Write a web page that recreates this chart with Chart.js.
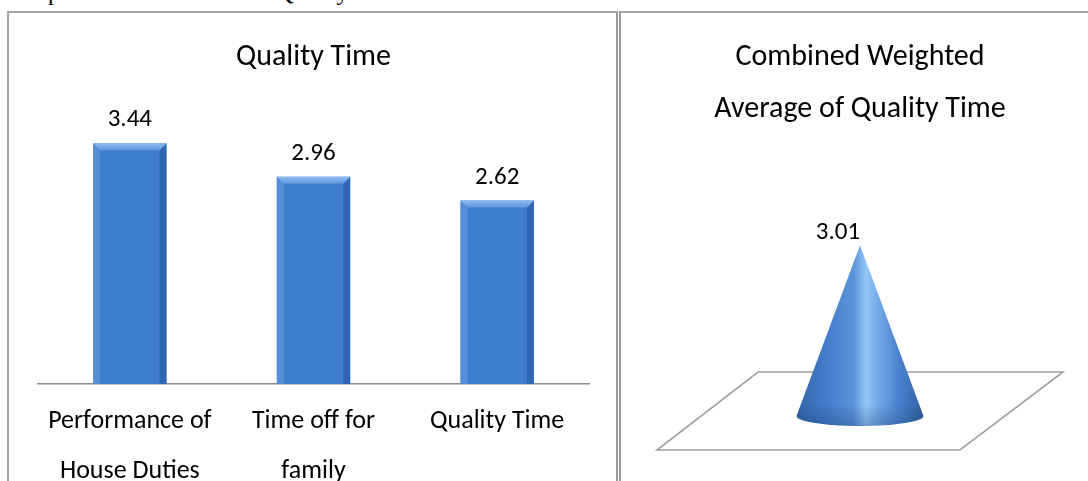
<!DOCTYPE html>
<html><head><meta charset="utf-8">
<script src="https://cdn.jsdelivr.net/npm/chart.js@4"></script>
<style>
html,body{margin:0;padding:0;background:#fff;overflow:hidden;width:1088px;height:481px;}
#cap{position:absolute;left:12px;top:-20px;font:24px "Liberation Serif","Times New Roman",serif;line-height:24px;white-space:nowrap;color:#000;}
.panel{position:absolute;top:11px;height:500px;border-top:2px solid #a6a6a6;}
#p1{left:7px;width:607px;border-left:2px solid #a6a6a6;border-right:2px solid #999;}
#p2{left:619px;width:480px;border-left:2px solid #999;}
.wrap{position:absolute;height:500px;}
</style></head>
<body>
<div id="cap">Graph: Mean Scores of the Quality Time</div>
<div class="panel" id="p1"></div>
<div class="panel" id="p2"></div>
<div class="wrap" style="left:9px;top:13px;width:606px;"><canvas id="c1"></canvas></div>
<div class="wrap" style="left:621px;top:13px;width:467px;"><canvas id="c2"></canvas></div>
<script>
// ---- data ----
const barCategories = [["Performance of","House Duties"],["Time off for","family"],["Quality Time"]];
const barValues = [3.44, 2.96, 2.62];
const barTitle = "Quality Time";
const coneCategories = ["Combined Weighted Average of Quality Time"];
const coneValues = [3.01];
const coneTitle = ["Combined Weighted","Average of Quality Time"];
const yTicksMax = 4;

const FONT = "Carlito, Lato, 'Open Sans', sans-serif";

const valueLabels = {
  id: 'valueLabels',
  afterDatasetsDraw(chart, args, opts) {
    const ctx = chart.ctx;
    const meta = chart.getDatasetMeta(0);
    const data = chart.data.datasets[0].data;
    ctx.save();
    ctx.fillStyle = '#000';
    ctx.font = opts.size + 'px ' + FONT;
    ctx.textAlign = 'center';
    ctx.textBaseline = 'middle';
    meta.data.forEach((el, i) => {
      ctx.fillText(data[i].toFixed(2), el.x + (opts.dx || 0), el.y + opts.dy);
    });
    ctx.restore();
  }
};

const bevel = {
  id: 'bevel',
  afterDatasetsDraw(chart) {
    const ctx = chart.ctx;
    const meta = chart.getDatasetMeta(0);
    meta.data.forEach(el => {
      const {x, y, base, width} = el.getProps(['x','y','base','width'], true);
      const l = x - width/2, r = x + width/2, b = 7;
      ctx.save();
      ctx.fillStyle = 'rgba(110,160,225,0.5)';
      ctx.beginPath(); ctx.moveTo(l,y); ctx.lineTo(l+b,y+b); ctx.lineTo(l+b,base); ctx.lineTo(l,base); ctx.closePath(); ctx.fill();
      ctx.fillStyle = 'rgba(30,75,140,0.45)';
      ctx.beginPath(); ctx.moveTo(r,y); ctx.lineTo(r-b,y+b); ctx.lineTo(r-b,base); ctx.lineTo(r,base); ctx.closePath(); ctx.fill();
      const g = ctx.createLinearGradient(0, y, 0, y+b);
      g.addColorStop(0, '#8dbbf0'); g.addColorStop(1, '#5f97dc');
      ctx.fillStyle = g;
      ctx.beginPath(); ctx.moveTo(l,y); ctx.lineTo(r,y); ctx.lineTo(r-b,y+b); ctx.lineTo(l+b,y+b); ctx.closePath(); ctx.fill();
      ctx.restore();
    });
  }
};

new Chart(document.getElementById('c1'), {
  type: 'bar',
  data: { labels: barCategories, datasets: [{ data: barValues, backgroundColor: '#3d7dcd', borderWidth: 0, categoryPercentage: 1, barPercentage: 0.4 }] },
  options: {
    responsive: true, maintainAspectRatio: false, animation: false,
    layout: { padding: { left: 29, right: 26, top: 0, bottom: 5 } },
    plugins: {
      legend: { display: false }, tooltip: { enabled: false },
      title: { display: true, text: barTitle, color: '#000', font: { family: FONT, size: 30, weight: 'normal', lineHeight: 1.2 }, padding: { top: 26, bottom: 29 } },
      valueLabels: { size: 25, dy: -23 }
    },
    scales: {
      y: { display: false, min: 0, max: yTicksMax },
      x: {
        grid: { display: false, drawTicks: false },
        border: { display: true, color: '#8c8c8c', width: 1.5 },
        ticks: { color: '#000', padding: 12, font: { family: FONT, size: 26, lineHeight: '50px' }, maxRotation: 0, autoSkip: false }
      }
    }
  },
  plugins: [bevel, valueLabels]
});

const coneFloor = {
  id: 'coneFloor',
  beforeDatasetsDraw(chart) {
    const ctx = chart.ctx, a = chart.chartArea;
    const y0 = chart.scales.y.getPixelForValue(0);
    ctx.save();
    ctx.strokeStyle = '#a0a0a0'; ctx.lineWidth = 1.6;
    ctx.beginPath();
    ctx.moveTo(a.left + 101, y0 - 44);
    ctx.lineTo(a.right, y0 - 44);
    ctx.lineTo(a.right - 103, y0 + 34);
    ctx.lineTo(a.left, y0 + 34);
    ctx.closePath(); ctx.stroke();
    ctx.restore();
  },
  afterDatasetsDraw(chart) {
    const ctx = chart.ctx;
    const meta = chart.getDatasetMeta(0);
    meta.data.forEach(el => {
      const {x, y, base, width} = el.getProps(['x','y','base','width'], true);
      const rx = width/2, ry = 10;
      ctx.save();
      const g = ctx.createLinearGradient(x - rx, 0, x + rx, 0);
      g.addColorStop(0, '#3366aa');
      g.addColorStop(0.2, '#4079c6');
      g.addColorStop(0.45, '#5a94da');
      g.addColorStop(0.55, '#95c8f8');
      g.addColorStop(0.62, '#78afec');
      g.addColorStop(0.8, '#4a84cf');
      g.addColorStop(1, '#2f60a0');
      ctx.fillStyle = g;
      ctx.beginPath();
      ctx.moveTo(x, y);
      ctx.lineTo(x - rx, base);
      ctx.ellipse(x, base, rx, ry, 0, Math.PI, 0, true);
      ctx.lineTo(x, y);
      ctx.closePath();
      ctx.fill();
      const g2 = ctx.createLinearGradient(0, base - 12, 0, base + ry);
      g2.addColorStop(0, 'rgba(20,50,100,0)');
      g2.addColorStop(1, 'rgba(20,50,100,0.3)');
      ctx.fillStyle = g2;
      ctx.fill();
      ctx.restore();
    });
  }
};

new Chart(document.getElementById('c2'), {
  type: 'bar',
  data: { labels: coneCategories, datasets: [{ data: coneValues, backgroundColor: 'rgba(0,0,0,0)', borderWidth: 0, barThickness: 127 }] },
  options: {
    responsive: true, maintainAspectRatio: false, animation: false,
    layout: { padding: { left: 36, right: 25, top: 0, bottom: 97 } },
    plugins: {
      legend: { display: false }, tooltip: { enabled: false },
      title: { display: true, text: coneTitle, color: '#000', font: { family: FONT, size: 30, weight: 'normal', lineHeight: '52px' }, padding: { top: 18, bottom: 54 } },
      valueLabels: { size: 25, dy: -12, dx: -22 }
    },
    scales: {
      y: { display: false, min: 0, max: yTicksMax },
      x: { display: false }
    }
  },
  plugins: [coneFloor, valueLabels]
});
</script>
</body></html>
